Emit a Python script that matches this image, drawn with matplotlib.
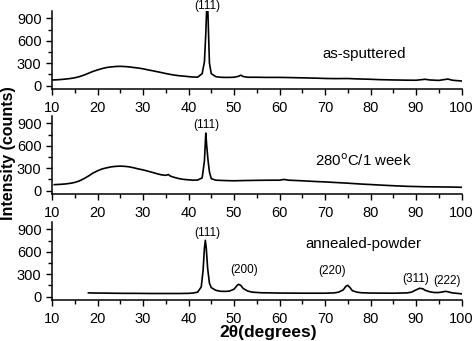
import matplotlib
matplotlib.use('Agg')
import matplotlib.pyplot as plt
from matplotlib.ticker import MultipleLocator

plt.rcParams['font.family'] = ['Liberation Sans', 'DejaVu Sans']

# ── data (2theta in degrees, intensity in counts) ─────────────────────────────
tt_sput = [10, 11, 12, 13, 14, 15, 16, 17, 18, 19, 20, 21, 22, 23, 24, 25, 26,
           27, 28, 29, 30, 31, 32, 33, 34, 35, 36, 37, 38, 39, 40, 41, 42, 43,
           43.5, 43.8, 44.0, 44.2, 44.4, 44.6, 45, 46, 47, 48, 49, 50, 51,
           51.5, 52, 53, 55, 57, 60, 62, 65, 68, 70, 72, 75, 77, 80, 82, 85,
           88, 90, 92, 93, 95, 97, 98, 100]
i_sput = [75, 78, 82, 88, 95, 105, 120, 140, 165, 190, 210, 228, 242, 250,
          256, 258, 255, 250, 242, 235, 225, 212, 200, 188, 175, 162, 150, 140,
          132, 127, 120, 115, 113, 160, 320, 700, 1050, 1100, 700, 300, 160,
          120, 112, 110, 110, 112, 125, 140, 122, 112, 112, 110, 110, 108,
          104, 100, 96, 94, 95, 90, 85, 80, 76, 73, 72, 85, 76, 70, 88, 72, 62]

tt_280 = [10.5, 11, 12, 13, 14, 15, 16, 17, 18, 19, 20, 21, 22, 23, 24, 25,
          26, 27, 28, 29, 30, 31, 32, 33, 34, 35, 35.6, 36, 37, 38, 39, 40, 41,
          42, 43, 43.5, 43.8, 44.0, 44.3, 44.6, 45, 46, 48, 50, 52, 55, 58,
          60, 61, 62, 65, 68, 70, 72, 75, 78, 80, 82, 85, 88, 90, 92, 95, 98,
          100]
i_280 = [80, 82, 85, 90, 98, 110, 130, 160, 195, 235, 265, 290, 305, 318, 325,
         328, 325, 318, 305, 290, 278, 262, 245, 228, 212, 205, 215, 195, 175,
         160, 150, 145, 140, 142, 170, 400, 770, 600, 400, 250, 160, 140, 135,
         132, 135, 138, 140, 140, 150, 140, 132, 122, 117, 110, 100, 88, 82,
         75, 66, 58, 55, 52, 50, 48, 45]

tt_ann = [18, 20, 22, 24, 26, 28, 30, 32, 34, 36, 38, 40, 41, 42, 42.8, 43.2,
          43.5, 43.7, 43.9, 44.2, 44.6, 45, 46, 47, 48, 49, 50, 50.7, 51, 51.5,
          52, 53, 54, 56, 58, 60, 65, 70, 72, 73, 74, 74.6, 75, 75.5, 76, 77,
          78, 80, 85, 88, 89, 90, 90.8, 91.5, 92, 93, 94, 95, 96, 96.5, 97, 98,
          100]
i_ann = [50, 48, 47, 45, 44, 44, 43, 42, 42, 42, 42, 44, 48, 60, 130, 350,
         650, 753, 650, 380, 180, 120, 85, 72, 70, 74, 100, 150, 165, 150, 110,
         75, 60, 52, 50, 48, 46, 46, 50, 60, 90, 140, 151, 120, 80, 60, 52,
         48, 46, 50, 60, 90, 112, 105, 85, 65, 55, 55, 65, 71, 65, 50, 38]

series = [(tt_sput, i_sput), (tt_280, i_280), (tt_ann, i_ann)]
sample_names = ['as-sputtered', '280$^{\\rm o}$C/1 week', 'annealed-powder']
name_y = [423, 403, 699]

peak_labels = ['(111)', '(111)', '(111)', '(200)', '(220)', '(311)', '(222)']
peak_panel = [0, 1, 2, 2, 2, 2, 2]
peak_x = [44.2, 43.9, 44.2, 52.2, 71.5, 89.9, 96.7]
peak_y = [1068, 878, 846, 352, 342, 241, 205]

# ── figure ────────────────────────────────────────────────────────────────────
fig = plt.figure(figsize=(4.74, 3.41), dpi=100)
bottoms = [0.739, 0.431, 0.1202]
axes = [fig.add_axes([0.1097, b, 0.864, 0.2293]) for b in bottoms]

for k, ax in enumerate(axes):
    x, y = series[k]
    ax.plot(x, y, color='black', linewidth=1.2)
    ax.set_xlim(10, 100)
    ax.set_ylim(-45, 1000)
    ax.spines['top'].set_visible(False)
    ax.spines['right'].set_visible(False)
    ax.spines['left'].set_linewidth(1.1)
    ax.spines['bottom'].set_linewidth(1.1)
    ax.xaxis.set_major_locator(MultipleLocator(10))
    ax.xaxis.set_minor_locator(MultipleLocator(5))
    ax.yaxis.set_minor_locator(MultipleLocator(150))
    ax.set_yticks([0, 300, 600, 900])
    ax.tick_params(which='major', length=4.5, width=1.0, labelsize=10.5, pad=3)
    ax.tick_params(which='minor', length=3, width=1.0)
    ax.tick_params(axis='x', pad=4)
    ax.text(78.5, name_y[k], sample_names[k], ha='center', va='center',
            fontsize=10.8)

for lab, p, px, py in zip(peak_labels, peak_panel, peak_x, peak_y):
    axes[p].text(px, py, lab, ha='center', va='center', fontsize=8.5,
                 clip_on=False)

fig.text(0.018, 0.55, 'Intensity (counts)', rotation=90, ha='center',
         va='center', fontsize=11.5, fontweight='bold')
fig.text(0.565, 0.024, '2\u03b8(degrees)', ha='center', va='center',
         fontsize=12.5, fontweight='bold')

plt.savefig('out.png', dpi=100)
